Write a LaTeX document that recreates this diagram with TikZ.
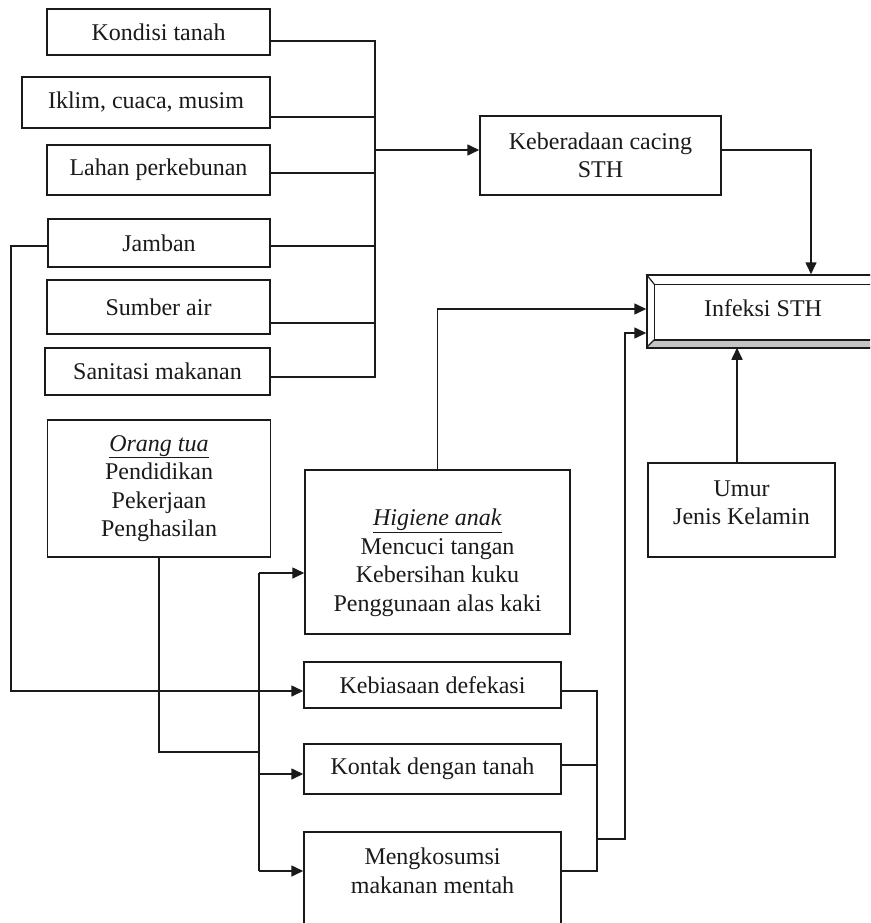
\documentclass[tikz,border=0pt]{standalone}
\usepackage{fontspec}
\setmainfont{Liberation Serif}
\usetikzlibrary{arrows.meta}
\definecolor{ink}{HTML}{1A1A1A}
\definecolor{bevelgray}{HTML}{C4C4C4}
\begin{document}
\begin{tikzpicture}[x=1pt,y=-1pt,
  every node/.style={font=\fontsize{24}{28.5}\selectfont, text=ink},
  box/.style={draw=ink, line width=1.5pt, inner sep=0pt, align=center, fill=white},
  txt/.style={inner sep=0pt, align=center},
  ln/.style={draw=ink, line width=1.6pt},
  arr/.style={ln, -{Triangle[length=12pt,width=11pt]}}]
\useasboundingbox (0,0) rectangle (870,923);
\clip (0,0) rectangle (870,923);
\fill[white] (0,0) rectangle (870,923);

% left column
\node[box, minimum width=223pt, minimum height=46pt] (kondisi) at (158.5,32) {Kondisi tanah};
\node[box, minimum width=248pt, minimum height=51pt] (iklim) at (146,102.5) {Iklim, cuaca, musim};
\node[box, minimum width=223pt, minimum height=50pt] (lahan) at (158.5,170) {Lahan perkebunan};
\node[box, minimum width=222pt, minimum height=48pt] (jamban) at (159,243) {Jamban};
\node[box, minimum width=223pt, minimum height=54pt] (sumber) at (158.5,307) {Sumber air};
\node[box, minimum width=225pt, minimum height=47pt] (sanitasi) at (157.5,371.5) {Sanitasi makanan};
\node[box, minimum width=223pt, minimum height=137pt] (orangtua) at (159,488.5) {\underline{\textit{Orang tua}}\\Pendidikan\\Pekerjaan\\Penghasilan};

% upper right
\node[box, minimum width=241pt, minimum height=79pt] (keberadaan) at (600.5,155.5) {Keberadaan cacing\\STH};

% Infeksi STH (bevelled box)
\node[box, minimum width=243pt, minimum height=72pt] (infeksi) at (768.5,311) {};
\coordinate (inw) at ([xshift=8pt,yshift=-10pt]infeksi.north west);
\coordinate (ise) at ([xshift=-8pt,yshift=8pt]infeksi.south east);
\fill[bevelgray] (infeksi.south west) -- (inw |- ise) -- (ise) -- (infeksi.south east) -- cycle;
\draw[ink, line width=1.5pt] (infeksi.north west) rectangle (infeksi.south east);
\draw[ink, line width=1.5pt] (inw) rectangle (ise);
\draw[ink, line width=1.2pt] (infeksi.north west) -- (inw);
\draw[ink, line width=1.2pt] (infeksi.south west) -- (inw |- ise);
\node[txt] (infeksitxt) at (763,308) {Infeksi STH};

% Umur
\node[box, minimum width=187pt, minimum height=94pt] (umur) at (741.5,510) {};
\node[txt] (umurtxt) at (741.5,503) {Umur\\Jenis Kelamin};

% child hygiene block
\node[box, minimum width=265pt, minimum height=164pt] (higiene) at (437.5,552) {};
\node[txt] (higienetxt) at (437.5,563) {\underline{\textit{Higiene anak}}\\Mencuci tangan\\Kebersihan kuku\\Penggunaan alas kaki};
\node[box, minimum width=257pt, minimum height=46pt] (kebiasaan) at (432.5,685) {Kebiasaan defekasi};
\node[box, minimum width=257pt, minimum height=50pt] (kontak) at (432.5,769) {Kontak dengan tanah};
\node[box, minimum width=257pt, minimum height=118pt] (mengkosumsi) at (432.5,891) {};
\node[txt] (mengtxt) at (432.5,871) {Mengkosumsi\\makanan mentah};

% bracket of environmental factors
\coordinate (ttop) at (375,41);
\coordinate (tbot) at (375,377);
\coordinate (yi) at (375,117);
\coordinate (yl) at (375,173);
\coordinate (yj) at (375,246);
\coordinate (ys) at (375,323);
\coordinate (tk) at (375,150);
\draw[ln] (kondisi.east |- ttop) -- (ttop) -- (tbot) -- (sanitasi.east |- tbot);
\draw[ln] (iklim.east |- yi) -- (yi);
\draw[ln] (lahan.east |- yl) -- (yl);
\draw[ln] (jamban.east |- yj) -- (yj);
\draw[ln] (sumber.east |- ys) -- (ys);
\draw[arr] (tk) -- (keberadaan.west |- tk);

% Keberadaan -> Infeksi
\coordinate (kb) at (811,150);
\draw[arr] (keberadaan.east |- kb) -- (kb) -- (infeksi.north -| kb);

% Higiene -> Infeksi
\coordinate (h1) at (437.5,309);
\draw[arr] (higiene.north -| h1) -- (h1) -- (infeksi.west |- h1);

% Umur -> Infeksi
\coordinate (u1) at (737,0);
\draw[arr] (umur.north -| u1) -- (infeksi.south -| u1);

% Jamban -> Kebiasaan defekasi
\coordinate (jl) at (11,246);
\coordinate (jk) at (11,691);
\draw[arr] (jamban.west |- jl) -- (jl) -- (jk) -- (kebiasaan.west |- jk);

% Orang tua -> trunk
\coordinate (tr) at (259,752);
\coordinate (trt) at (259,573);
\coordinate (trk) at (259,774);
\coordinate (trb) at (259,871);
\draw[ln] (orangtua.south) |- (tr);
\draw[ln] (trt) -- (trb);
\draw[arr] (trt) -- (higiene.west |- trt);
\draw[arr] (trk) -- (kontak.west |- trk);
\draw[arr] (trb) -- (mengkosumsi.west |- trb);

% behaviours -> Infeksi
\coordinate (rb1) at (597,691);
\coordinate (rb2) at (597,765);
\coordinate (rb3) at (597,871);
\coordinate (rm) at (597,839);
\coordinate (rr) at (625,839);
\coordinate (rt) at (625,333);
\draw[ln] (kebiasaan.east |- rb1) -- (rb1) -- (rb3) -- (mengkosumsi.east |- rb3);
\draw[ln] (kontak.east |- rb2) -- (rb2);
\draw[arr] (rm) -- (rr) -- (rt) -- (infeksi.west |- rt);
\end{tikzpicture}
\end{document}
